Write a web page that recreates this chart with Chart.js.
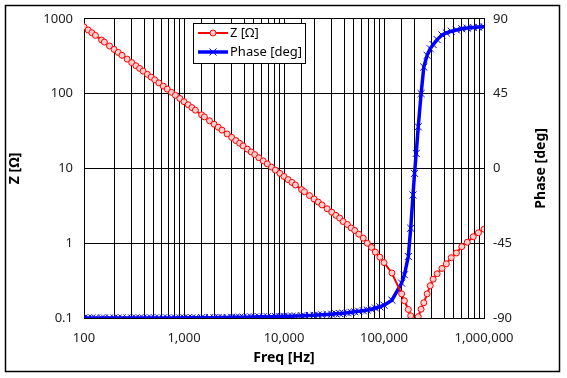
<!DOCTYPE html>
<html>
<head>
<meta charset="utf-8">
<script src="https://cdn.jsdelivr.net/npm/chart.js@4/dist/chart.umd.min.js"></script>
<style>
  html, body { margin: 0; padding: 0; background: #fff; }
  #wrap { width: 567px; height: 378px; }
</style>
</head>
<body>
<div id="wrap"><canvas id="c" width="567" height="378"></canvas></div>
<script>
// ---- data ----
const freqHz = [
  100, 110, 120, 130, 150, 160, 180, 200, 220, 240, 270, 300,
  330, 360, 390, 430, 470, 510, 560, 620, 680, 750, 820, 910,
  1000, 1100, 1200, 1300, 1500, 1600, 1800, 2000, 2200, 2400, 2700, 3000,
  3300, 3600, 3900, 4300, 4700, 5100, 5600, 6200, 6800, 7500, 8200, 9100,
  10000, 11000, 12000, 13000, 15000, 16000, 18000, 20000, 22000, 24000, 27000, 30000,
  33000, 36000, 39000, 43000, 47000, 51000, 56000, 62000, 68000, 75000, 82000, 91000,
  100000, 120000, 150000, 160000, 175000, 185000, 195000, 202000, 210000, 220000, 235000, 250000,
  270000, 290000, 310000, 340000, 380000, 420000, 470000, 530000, 600000, 680000, 780000, 880000, 1000000
];
const impedanceOhm = [
  780, 709, 650, 600, 520, 488, 433, 390, 355, 325, 289, 260,
  236, 217, 200, 181, 166, 153, 139, 126, 115, 104, 95, 86,
  78, 70.9, 65, 60, 52, 48.8, 43.3, 39, 35.5, 32.5, 28.9, 26,
  23.6, 21.7, 20, 18.1, 16.6, 15.3, 13.9, 12.6, 11.5, 10.4, 9.5, 8.6,
  7.8, 7.09, 6.5, 6.0, 5.2, 4.88, 4.33, 3.9, 3.55, 3.25, 2.89, 2.6,
  2.36, 2.17, 1.95, 1.78, 1.6, 1.48, 1.32, 1.17, 1.0, 0.88, 0.76, 0.65,
  0.55, 0.40, 0.21, 0.17, 0.13, 0.107, 0.089, 0.079, 0.089, 0.104, 0.131, 0.16,
  0.21, 0.27, 0.33, 0.39, 0.46, 0.53, 0.64, 0.74, 0.9, 1.03, 1.22, 1.38, 1.54
];
const phaseDeg = [
  -90, -90, -90, -90, -90, -90, -90, -90, -90, -90, -90, -90,
  -90, -90, -90, -90, -90, -90, -90, -90, -90, -90, -90, -90,
  -89.9, -89.9, -89.9, -89.9, -89.8, -89.8, -89.8, -89.8, -89.7, -89.7, -89.7, -89.6,
  -89.6, -89.6, -89.5, -89.5, -89.4, -89.4, -89.3, -89.3, -89.2, -89.2, -89.1, -89.1,
  -89.0, -89.0, -88.9, -88.8, -88.7, -88.6, -88.5, -88.4, -88.2, -88.1, -87.9, -87.7,
  -87.5, -87.3, -87.1, -86.9, -86.6, -86.3, -86.0, -85.6, -85.2, -84.7, -84.0, -83.3,
  -82.3, -79.3, -69, -64, -53, -36, -16, -3, 9, 25, 45, 61,
  68, 72, 74.5, 77.5, 80.3, 81.5, 82.5, 83.3, 84, 84.4, 84.8, 85, 85.2
];
const freqTickValues = [100, 1000, 10000, 100000, 1000000];
const impedanceTickValues = [0.1, 1, 10, 100, 1000];
const phaseTickValues = [-90, -45, 0, 45, 90];
const seriesNames = ['Z [\u03A9]', 'Phase [deg]'];
const axisTitles = { x: 'Freq [Hz]', y: 'Z [\u03A9]', y1: 'Phase [deg]' };

// ---- styling ----
const FONT = "'Noto Sans', 'DejaVu Sans', sans-serif";
const TICK_COLOR = '#222';
const RED = '#ff0000';
const BLUE = '#0000ff';

function matchTick(v, list) {
  return list.find(t => Math.abs(v / t - 1) < 1e-6);
}

const outerFrame = {
  id: 'outerFrame',
  beforeDraw(chart) {
    const ctx = chart.ctx;
    ctx.save();
    ctx.fillStyle = '#fff';
    ctx.fillRect(0, 0, chart.width, chart.height);
    ctx.strokeStyle = '#000';
    ctx.lineWidth = 1.5;
    ctx.strokeRect(5.5, 5.5, 554, 366);
    ctx.restore();
  }
};

const rightTitle = {
  id: 'rightTitle',
  afterDraw(chart) {
    const ctx = chart.ctx;
    const a = chart.chartArea;
    ctx.save();
    ctx.translate(541, (a.top + a.bottom) / 2);
    ctx.rotate(-Math.PI / 2);
    ctx.font = "bold 14px " + FONT;
    ctx.fillStyle = '#000';
    ctx.textAlign = 'center';
    ctx.textBaseline = 'middle';
    ctx.fillText(axisTitles.y1, 0, 0);
    ctx.restore();
  }
};

const boxLegend = {
  id: 'boxLegend',
  afterDatasetsDraw(chart) {
    const ctx = chart.ctx;
    const x0 = 193.5, y0 = 23.5, w = 112, h = 40;
    ctx.save();
    ctx.fillStyle = '#fff';
    ctx.fillRect(x0, y0, w, h);
    ctx.strokeStyle = '#000';
    ctx.lineWidth = 1;
    ctx.strokeRect(x0, y0, w, h);
    const rows = [33, 52];
    chart.data.datasets.forEach((ds, i) => {
      const y = rows[i];
      ctx.strokeStyle = ds.borderColor;
      ctx.lineWidth = ds.borderWidth;
      ctx.beginPath();
      ctx.moveTo(198, y);
      ctx.lineTo(228, y);
      ctx.stroke();
      ctx.lineWidth = ds.pointBorderWidth;
      ctx.fillStyle = ds.pointBackgroundColor || ds.borderColor;
      Chart.helpers.drawPoint(ctx, {
        pointStyle: ds.pointStyle, radius: ds.pointRadius, borderWidth: ds.pointBorderWidth
      }, 213, y);
      ctx.fillStyle = '#000';
      ctx.font = "13px " + FONT;
      ctx.textAlign = 'left';
      ctx.textBaseline = 'middle';
      ctx.fillText(ds.label, 230, y);
    });
    ctx.restore();
  }
};

const zPoints = freqHz.map((f, i) => ({ x: f, y: impedanceOhm[i] }));
const phasePoints = freqHz.map((f, i) => ({ x: f, y: phaseDeg[i] }));

new Chart(document.getElementById('c'), {
  type: 'line',
  data: {
    datasets: [
      {
        label: seriesNames[0],
        data: zPoints,
        yAxisID: 'y',
        borderColor: RED,
        backgroundColor: RED,
        borderWidth: 2,
        pointStyle: 'circle',
        pointRadius: 3,
        pointBorderWidth: 1,
        pointBorderColor: RED,
        pointBackgroundColor: '#ffd0d0',
        tension: 0
      },
      {
        label: seriesNames[1],
        data: phasePoints,
        yAxisID: 'y1',
        borderColor: BLUE,
        backgroundColor: BLUE,
        borderWidth: 3.5,
        pointStyle: 'crossRot',
        pointRadius: 5,
        pointBorderWidth: 1,
        pointBorderColor: BLUE,
        tension: 0
      }
    ]
  },
  options: {
    responsive: false,
    animation: false,
    devicePixelRatio: 1,
    layout: { padding: { left: 6, right: 7, top: 17, bottom: 6 } },
    plugins: {
      legend: { display: false },
      tooltip: { enabled: false }
    },
    scales: {
      x: {
        type: 'logarithmic',
        min: 100,
        max: 1000000,
        afterFit(s) { s.height = 54; },
        grid: { color: '#000', lineWidth: 1, drawTicks: false },
        border: { display: true, color: '#000', width: 1 },
        ticks: {
          autoSkip: false,
          maxRotation: 0,
          padding: 12,
          color: TICK_COLOR,
          font: { family: FONT, size: 13 },
          callback(v) {
            const t = matchTick(v, freqTickValues);
            return t !== undefined ? t.toLocaleString('en-US') : '';
          }
        },
        title: {
          display: true,
          text: axisTitles.x,
          color: '#000',
          font: { family: FONT, size: 14, weight: 'bold' },
          padding: { top: 4, bottom: 6 }
        }
      },
      y: {
        type: 'logarithmic',
        position: 'left',
        min: 0.1,
        max: 1000,
        afterFit(s) { s.width = 78; },
        grid: { color: '#000', lineWidth: 1, drawTicks: false },
        border: { display: true, color: '#000', width: 1 },
        ticks: {
          autoSkip: false,
          padding: 11,
          color: TICK_COLOR,
          font: { family: FONT, size: 13 },
          callback(v) {
            const t = matchTick(v, impedanceTickValues);
            return t !== undefined ? String(t) : null;
          }
        },
        title: {
          display: true,
          text: axisTitles.y,
          color: '#000',
          font: { family: FONT, size: 14, weight: 'bold' },
          padding: { top: 1, bottom: 4 }
        }
      },
      y1: {
        type: 'linear',
        position: 'right',
        min: -90,
        max: 90,
        afterFit(s) { s.width = 76; },
        grid: { drawOnChartArea: false, drawTicks: false },
        border: { display: true, color: '#000', width: 1 },
        afterBuildTicks(s) { s.ticks = phaseTickValues.map(v => ({ value: v })); },
        ticks: {
          autoSkip: false,
          padding: 9,
          color: TICK_COLOR,
          font: { family: FONT, size: 13 },
          callback(v) { return String(v); }
        }
      }
    }
  },
  plugins: [outerFrame, boxLegend, rightTitle]
});
</script>
</body>
</html>
